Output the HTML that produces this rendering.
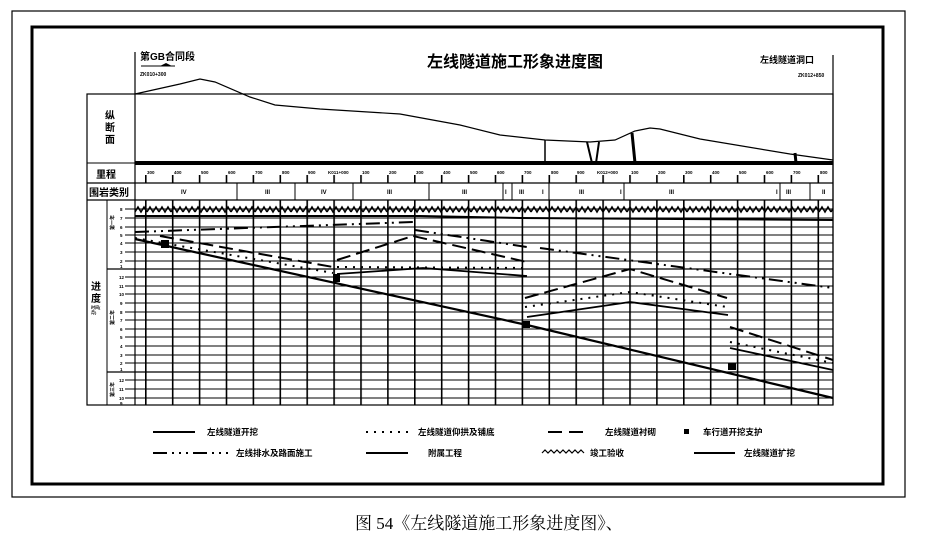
<!DOCTYPE html>
<html><head><meta charset="utf-8"><style>
body{margin:0;background:#fff;}
svg{display:block;font-family:"Liberation Sans","Noto Sans CJK SC",sans-serif;}
.t{font-weight:bold;fill:#000}
</style></head><body>
<svg width="925" height="547" viewBox="0 0 925 547">
<defs>
<pattern id="vg" x="145" y="0" width="26.9" height="600" patternUnits="userSpaceOnUse">
<rect x="0" y="0" width="1.6" height="600" fill="#000"/></pattern>
<pattern id="wv" x="135" y="205" width="12" height="10" patternUnits="userSpaceOnUse">
<path d="M0,7 L3,2 L6,7 L9,2 L12,7" fill="none" stroke="#000" stroke-width="1.5"/></pattern>
</defs>
<rect x="12" y="11" width="893" height="486" fill="none" stroke="#000" stroke-width="1.2"/>
<rect x="32" y="27" width="851" height="457" fill="none" stroke="#000" stroke-width="3"/>
<text x="515" y="67" class="t" font-size="16" text-anchor="middle">左线隧道施工形象进度图</text>
<text x="140" y="60" class="t" font-size="10">第GB合同段</text>
<line x1="141" y1="66" x2="175" y2="66" stroke="#000"/>
<path d="M160,66 L166,63 L172,66Z" fill="#000"/>
<text x="140" y="76" class="t" font-size="5">ZK010+300</text>
<text x="760" y="63" class="t" font-size="9">左线隧道洞口</text>
<text x="798" y="77" class="t" font-size="5">ZK012+850</text>
<line x1="135" y1="52" x2="135" y2="405" stroke="#000" stroke-width="1.2"/>
<line x1="833" y1="55" x2="833" y2="405" stroke="#000" stroke-width="1.2"/>
<path d="M135,94 L180,84 L200,79 L215,82 L250,97 L275,105 L320,109 L400,114 L460,125 L500,135 L545,140 L590,142 L615,140 L635,131 L650,128 L660,129 L700,139 L790,154 L833,160" fill="none" stroke="#000" stroke-width="1.2"/>
<line x1="545" y1="140" x2="545" y2="163" stroke="#000" stroke-width="1.5"/>
<path d="M587,142 L592,163 L596,163 L599,142" fill="none" stroke="#000" stroke-width="2"/>
<line x1="632" y1="133" x2="635" y2="163" stroke="#000" stroke-width="3"/>
<line x1="795" y1="153" x2="796" y2="163" stroke="#000" stroke-width="3"/>
<rect x="87" y="94" width="746" height="311" fill="none" stroke="#000" stroke-width="1.2"/>
<text x="105" y="119" class="t" font-size="10">纵</text>
<text x="105" y="131" class="t" font-size="10">断</text>
<text x="105" y="143" class="t" font-size="10">面</text>
<rect x="135" y="161" width="698" height="4" fill="#000"/>
<line x1="87" y1="163" x2="135" y2="163" stroke="#000"/>
<line x1="87" y1="183" x2="833" y2="183" stroke="#000" stroke-width="1.2"/>
<line x1="87" y1="200" x2="833" y2="200" stroke="#000" stroke-width="1.2"/>
<text x="96" y="178" class="t" font-size="10">里程</text>
<text x="89" y="196" class="t" font-size="10">围岩类别</text>
<line x1="107" y1="200" x2="107" y2="405" stroke="#000"/>
<text x="91" y="290" class="t" font-size="10">进</text>
<text x="91" y="302" class="t" font-size="10">度</text>
<text x="91" y="309" class="t" font-size="4">时间(</text>
<text x="91" y="314" class="t" font-size="4">月)</text>
<g class="t" font-size="5">
<text transform="translate(114,230) rotate(-90)">第一年</text>
<text transform="translate(114,325) rotate(-90)">第二年</text>
<text transform="translate(114,397) rotate(-90)">第三年</text>
</g>
<rect x="135" y="175" width="698" height="8" fill="url(#vg)"/>
<g class="t" font-size="4.5">
<text x="147" y="174">300</text><text x="174" y="174">400</text><text x="201" y="174">500</text><text x="228" y="174">600</text><text x="255" y="174">700</text><text x="282" y="174">800</text><text x="308" y="174">900</text><text x="328" y="174">K011+000</text><text x="362" y="174">100</text><text x="389" y="174">200</text><text x="416" y="174">300</text><text x="443" y="174">400</text><text x="470" y="174">500</text><text x="497" y="174">600</text><text x="524" y="174">700</text><text x="551" y="174">800</text><text x="577" y="174">900</text><text x="597" y="174">K012+000</text><text x="631" y="174">100</text><text x="658" y="174">200</text><text x="685" y="174">300</text><text x="712" y="174">400</text><text x="739" y="174">500</text><text x="766" y="174">600</text><text x="793" y="174">700</text><text x="820" y="174">800</text>
</g>
<g stroke="#000" stroke-width="1">
<line x1="237" y1="183" x2="237" y2="200"/><line x1="295" y1="183" x2="295" y2="200"/><line x1="353" y1="183" x2="353" y2="200"/><line x1="429" y1="183" x2="429" y2="200"/><line x1="503" y1="183" x2="503" y2="200"/><line x1="512" y1="183" x2="512" y2="200"/><line x1="549" y1="183" x2="549" y2="200"/><line x1="624" y1="183" x2="624" y2="200"/><line x1="780" y1="183" x2="780" y2="200"/><line x1="810" y1="183" x2="810" y2="200"/>
</g>
<g class="t" font-size="6">
<text x="181" y="194">IV</text><text x="265" y="194">III</text><text x="321" y="194">IV</text><text x="387" y="194">III</text><text x="462" y="194">III</text><text x="505" y="194">I</text><text x="519" y="194">III</text><text x="542" y="194">I</text><text x="579" y="194">III</text><text x="620" y="194">I</text><text x="669" y="194">III</text><text x="776" y="194">I</text><text x="786" y="194">III</text><text x="822" y="194">II</text>
</g>
<rect x="135" y="200" width="698" height="205" fill="url(#vg)"/>
<g stroke="#000" stroke-width="1.1">
<line x1="107" y1="269" x2="833" y2="269" stroke-width="1.3"/>
<line x1="107" y1="372" x2="833" y2="372" stroke-width="1.3"/>
<line x1="125" y1="209" x2="833" y2="209"/><line x1="125" y1="218" x2="833" y2="218"/><line x1="125" y1="227" x2="833" y2="227"/><line x1="125" y1="235" x2="833" y2="235"/><line x1="125" y1="243" x2="833" y2="243"/><line x1="125" y1="252" x2="833" y2="252"/><line x1="125" y1="261" x2="833" y2="261"/>
<line x1="125" y1="277" x2="833" y2="277"/><line x1="125" y1="286" x2="833" y2="286"/><line x1="125" y1="294" x2="833" y2="294"/><line x1="125" y1="303" x2="833" y2="303"/><line x1="125" y1="312" x2="833" y2="312"/><line x1="125" y1="320" x2="833" y2="320"/><line x1="125" y1="329" x2="833" y2="329"/><line x1="125" y1="337" x2="833" y2="337"/><line x1="125" y1="346" x2="833" y2="346"/><line x1="125" y1="355" x2="833" y2="355"/><line x1="125" y1="363" x2="833" y2="363"/>
<line x1="125" y1="380" x2="833" y2="380"/><line x1="125" y1="389" x2="833" y2="389"/><line x1="125" y1="398" x2="833" y2="398"/>
</g>
<g class="t" font-size="4.5">
<text x="120" y="211">8</text><text x="120" y="220">7</text><text x="120" y="229">6</text><text x="120" y="237">5</text><text x="120" y="245">4</text><text x="120" y="254">3</text><text x="120" y="263">2</text><text x="120" y="268">1</text>
<text x="119" y="279">12</text><text x="119" y="288">11</text><text x="119" y="296">10</text><text x="120" y="305">9</text><text x="120" y="314">8</text><text x="120" y="322">7</text><text x="120" y="331">6</text><text x="120" y="339">5</text><text x="120" y="348">4</text><text x="120" y="357">3</text><text x="120" y="365">2</text><text x="120" y="371">1</text>
<text x="119" y="382">12</text><text x="119" y="391">11</text><text x="119" y="400">10</text><text x="120" y="405">9</text>
</g>
<rect x="135" y="205" width="698" height="10" fill="url(#wv)"/>
<path d="M135,216 L420,216 L520,218 L833,220" fill="none" stroke="#000" stroke-width="2"/>
<path d="M135,239 L527,325 L833,398" fill="none" stroke="#000" stroke-width="2.2"/>
<rect x="161" y="240" width="8" height="8" fill="#000"/>
<rect x="333" y="274" width="7" height="8" fill="#000"/>
<rect x="522" y="321" width="8" height="7" fill="#000"/>
<rect x="728" y="363" width="8" height="7" fill="#000"/>
<path d="M135,232 L413,222" fill="none" stroke="#000" stroke-width="2" stroke-dasharray="14,5,2,5,2,5"/>
<path d="M415,230 L527,247" fill="none" stroke="#000" stroke-width="2" stroke-dasharray="14,5,2,5,2,5"/>
<path d="M540,248 L833,288" fill="none" stroke="#000" stroke-width="2" stroke-dasharray="14,5,2,5,2,5"/>
<path d="M160,236 L333,267" fill="none" stroke="#000" stroke-width="2" stroke-dasharray="14,6"/>
<path d="M337,260 L413,236 L527,262" fill="none" stroke="#000" stroke-width="2" stroke-dasharray="14,6"/>
<path d="M525,298 L630,269 L727,298" fill="none" stroke="#000" stroke-width="2" stroke-dasharray="14,6"/>
<path d="M730,327 L833,360" fill="none" stroke="#000" stroke-width="2" stroke-dasharray="14,6"/>
<path d="M135,238 L333,273" fill="none" stroke="#000" stroke-width="2" stroke-dasharray="2,6"/>
<path d="M337,267 L527,268" fill="none" stroke="#000" stroke-width="2" stroke-dasharray="2,6"/>
<path d="M525,307 L630,292 L727,307" fill="none" stroke="#000" stroke-width="2" stroke-dasharray="2,6"/>
<path d="M730,342 L833,363" fill="none" stroke="#000" stroke-width="2" stroke-dasharray="2,6"/>
<path d="M337,274 L423,268 L527,276" fill="none" stroke="#000" stroke-width="1.8"/>
<path d="M527,317 L630,302 L728,315" fill="none" stroke="#000" stroke-width="1.8"/>
<path d="M730,348 L833,370" fill="none" stroke="#000" stroke-width="1.8"/>
<g stroke="#000" stroke-width="2" fill="none">
<line x1="153" y1="432" x2="195" y2="432"/>
<line x1="366" y1="432" x2="408" y2="432" stroke-dasharray="2,6"/>
<line x1="548" y1="432" x2="585" y2="432" stroke-dasharray="14,7"/>
<line x1="153" y1="453" x2="233" y2="453" stroke-dasharray="14,5,2,5,2,5,2,5"/>
<line x1="366" y1="453" x2="408" y2="453"/>
<path d="M542,453 l3,-3 l3,3 l3,-3 l3,3 l3,-3 l3,3 l3,-3 l3,3 l3,-3 l3,3 l3,-3 l3,3 l3,-3 l3,3" stroke-width="1.2"/>
<line x1="694" y1="453" x2="735" y2="453"/>
</g>
<rect x="684" y="429" width="5" height="5" fill="#000"/>
<g class="t" font-size="8.5">
<text x="207" y="435">左线隧道开挖</text>
<text x="418" y="435">左线隧道仰拱及铺底</text>
<text x="605" y="435">左线隧道衬砌</text>
<text x="703" y="435">车行道开挖支护</text>
<text x="236" y="456">左线排水及路面施工</text>
<text x="428" y="456">附属工程</text>
<text x="590" y="456">竣工验收</text>
<text x="744" y="456">左线隧道扩挖</text>
</g>
<text x="355" y="529" font-size="17" fill="#000" font-family="'Liberation Serif','Noto Serif CJK SC',serif">图 54《左线隧道施工形象进度图》、</text>
</svg>
</body></html>
